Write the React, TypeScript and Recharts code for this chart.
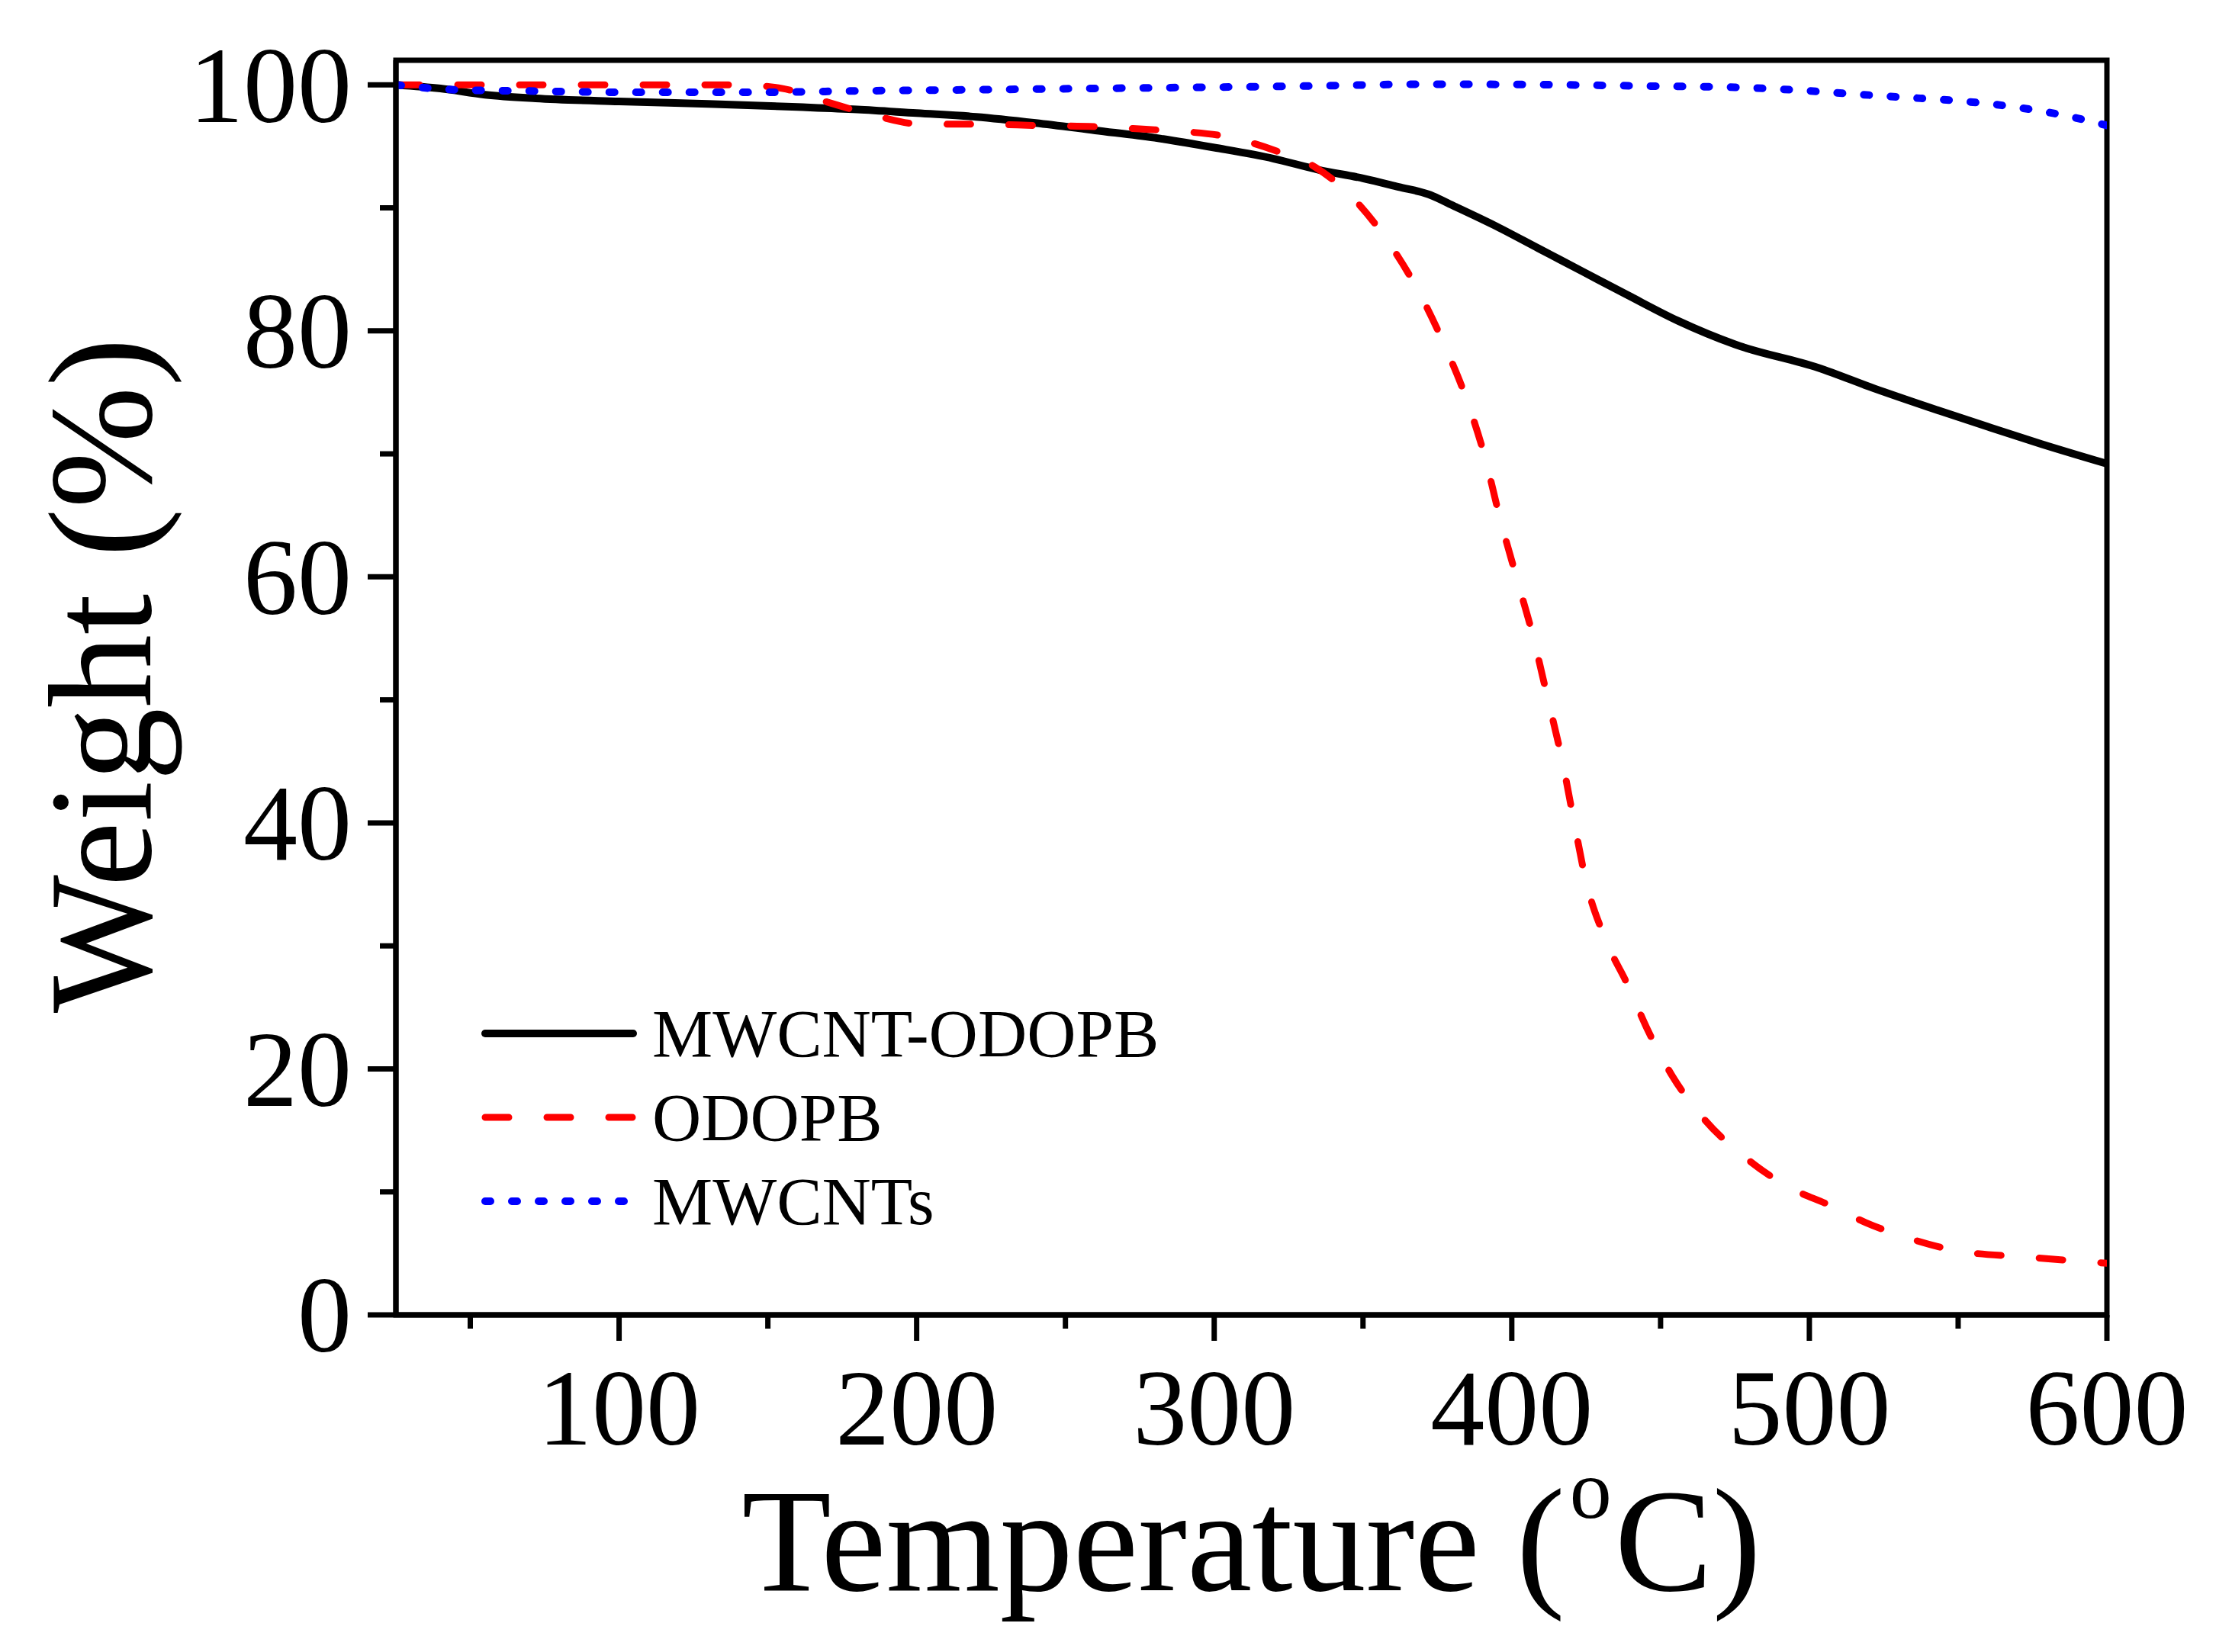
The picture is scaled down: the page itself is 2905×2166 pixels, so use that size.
import React from 'react';
import { LineChart, Line, XAxis, YAxis, Legend, ReferenceArea } from 'recharts';

// MWCNT-ODOPB (solid black)
const hybridTemp = [25, 40, 55, 72, 100, 130, 160, 180, 200, 220, 240, 260, 280, 300, 320, 335, 350, 362, 372, 381, 394, 409, 424, 439, 456, 475, 503, 522, 540, 560, 578, 600];
const hybridWeight = [100, 99.7, 99.2, 98.9, 98.65, 98.45, 98.2, 98.0, 97.7, 97.4, 96.9, 96.3, 95.7, 94.9, 94.0, 93.1, 92.4, 91.7, 91.1, 90.1, 88.6, 86.7, 84.8, 82.9, 80.8, 78.9, 77.0, 75.3, 73.8, 72.2, 70.8, 69.2];

// ODOPB (red dashed)
const odopbTemp = [25, 60, 100, 140, 155, 170, 186, 202, 220, 240, 260, 276, 290, 304, 320, 334, 345, 358, 370, 378, 385, 391, 396, 402, 407, 412, 417, 421, 425, 431, 439, 446, 454, 464, 480, 493, 507, 519, 530, 550, 573, 600];
const odopbWeight = [100, 100, 100, 100, 99.7, 98.6, 97.5, 96.8, 96.8, 96.7, 96.6, 96.4, 96.2, 95.8, 94.7, 93.3, 91.2, 87.4, 82.6, 78.5, 74.3, 69.7, 64.8, 59.6, 55.3, 50.2, 45.0, 40.0, 35.2, 30.8, 26.8, 23.0, 19.4, 16.1, 12.5, 10.4, 8.9, 7.5, 6.5, 5.2, 4.7, 4.2];

// MWCNTs (blue dotted)
const cntTemp = [25, 45, 70, 100, 125, 150, 178, 218, 257, 296, 330, 371, 418, 446, 475, 494, 512, 531, 550, 569, 586, 600];
const cntWeight = [100, 99.6, 99.5, 99.4, 99.4, 99.4, 99.5, 99.6, 99.7, 99.8, 99.9, 100.05, 100.0, 99.9, 99.8, 99.6, 99.3, 99.0, 98.7, 98.2, 97.5, 96.7];

const xTicks = [50, 100, 150, 200, 250, 300, 350, 400, 450, 500, 550, 600];
const yTicks = [0, 10, 20, 30, 40, 50, 60, 70, 80, 90, 100];

const FONT = '"Liberation Serif", "Times New Roman", serif';

const toPoints = (t: number[], w: number[]) => t.map((x, i) => ({ t: x, w: w[i] }));

const series = [
  { name: 'MWCNT-ODOPB', data: toPoints(hybridTemp, hybridWeight), color: '#000000', width: 10, dash: undefined },
  { name: 'ODOPB', data: toPoints(odopbTemp, odopbWeight), color: '#ff0000', width: 9, dash: '31 50' },
  { name: 'MWCNTs', data: toPoints(cntTemp, cntWeight), color: '#0000ff', width: 10, dash: '7 28' },
];

const XTick = ({ x, y, payload }: any) => {
  const major = payload.value % 100 === 0;
  return (
    <g>
      <line x1={x} x2={x} y1={y} y2={y + (major ? 34 : 18)} stroke="#000" strokeWidth={7} />
      {major && (
        <text x={x} y={y + 170} textAnchor="middle" fontSize={142} fontFamily={FONT} fill="#000">
          {payload.value}
        </text>
      )}
    </g>
  );
};

const YTick = ({ x, y, payload }: any) => {
  const major = payload.value % 20 === 0;
  return (
    <g>
      <line x1={x} x2={x - (major ? 37 : 21)} y1={y} y2={y} stroke="#000" strokeWidth={7} />
      {major && (
        <text x={x - 58} y={y} dy="0.34em" textAnchor="end" fontSize={142} fontFamily={FONT} fill="#000">
          {payload.value}
        </text>
      )}
    </g>
  );
};

const XTitle = ({ viewBox }: any) => {
  const cx = viewBox.x + viewBox.width / 2;
  return (
    <text x={cx} y={viewBox.y + 361} textAnchor="middle" fontSize={192} fontFamily={FONT} fill="#000">
      <tspan>Temperature (</tspan>
      <tspan dx={6} dy={-95} fontSize={110}>o</tspan>
      <tspan dx={4} dy={95}>C)</tspan>
    </text>
  );
};

const YTitle = ({ viewBox }: any) => {
  const cx = viewBox.x + 197;
  const cy = viewBox.y + viewBox.height / 2 - 16;
  return (
    <text
      x={cx}
      y={cy}
      transform={`rotate(-90 ${cx} ${cy})`}
      textAnchor="middle"
      fontSize={192}
      fontFamily={FONT}
      fill="#000"
    >
      Weight (%)
    </text>
  );
};

const LegendBox = () => (
  <div style={{ fontFamily: FONT }}>
    {series.map((s) => (
      <div key={s.name} style={{ display: 'flex', alignItems: 'center', height: 110 }}>
        <svg width={234} height={24}>
          <line
            x1={15}
            x2={209}
            y1={12}
            y2={12}
            stroke={s.color}
            strokeWidth={s.width}
            strokeDasharray={s.dash}
            strokeLinecap="round"
          />
        </svg>
        <span style={{ fontSize: 89, lineHeight: 1, color: '#000', whiteSpace: 'nowrap' }}>{s.name}</span>
      </div>
    ))}
  </div>
);

export default function App() {
  return (
    <div style={{ position: 'absolute', left: 0, top: 0, width: 2905, height: 2166, background: '#fff' }}>
      <LineChart width={2905} height={2166} margin={{ top: 79, right: 143, left: 0, bottom: 0 }}>
        <XAxis
          dataKey="t"
          type="number"
          domain={[25, 600]}
          ticks={xTicks}
          allowDataOverflow
          height={442}
          tickSize={0}
          tickMargin={0}
          tickLine={false}
          tick={<XTick />}
          stroke="#000"
          axisLine={{ stroke: '#000', strokeWidth: 7 }}
          label={<XTitle />}
        />
        <YAxis
          type="number"
          domain={[0, 102]}
          ticks={yTicks}
          allowDataOverflow
          width={519}
          tickSize={0}
          tickMargin={0}
          tickLine={false}
          tick={<YTick />}
          stroke="#000"
          axisLine={{ stroke: '#000', strokeWidth: 7 }}
          label={<YTitle />}
        />
        {/* frame round the plot area */}
        <ReferenceArea
          x1={25}
          x2={600}
          y1={0}
          y2={102}
          fill="none"
          fillOpacity={0}
          stroke="#000"
          strokeWidth={7}
          ifOverflow="visible"
        />
        {series.map((s) => (
          <Line
            key={s.name}
            data={s.data}
            dataKey="w"
            name={s.name}
            type="monotone"
            stroke={s.color}
            strokeWidth={s.width}
            strokeDasharray={s.dash}
            strokeLinecap="round"
            dot={false}
            activeDot={false}
            isAnimationActive={false}
          />
        ))}
        <Legend
          layout="vertical"
          align="center"
          verticalAlign="middle"
          content={<LegendBox />}
          wrapperStyle={{ position: 'absolute', left: 621, top: 1300, width: 'auto', height: 'auto' }}
        />
      </LineChart>
    </div>
  );
}
